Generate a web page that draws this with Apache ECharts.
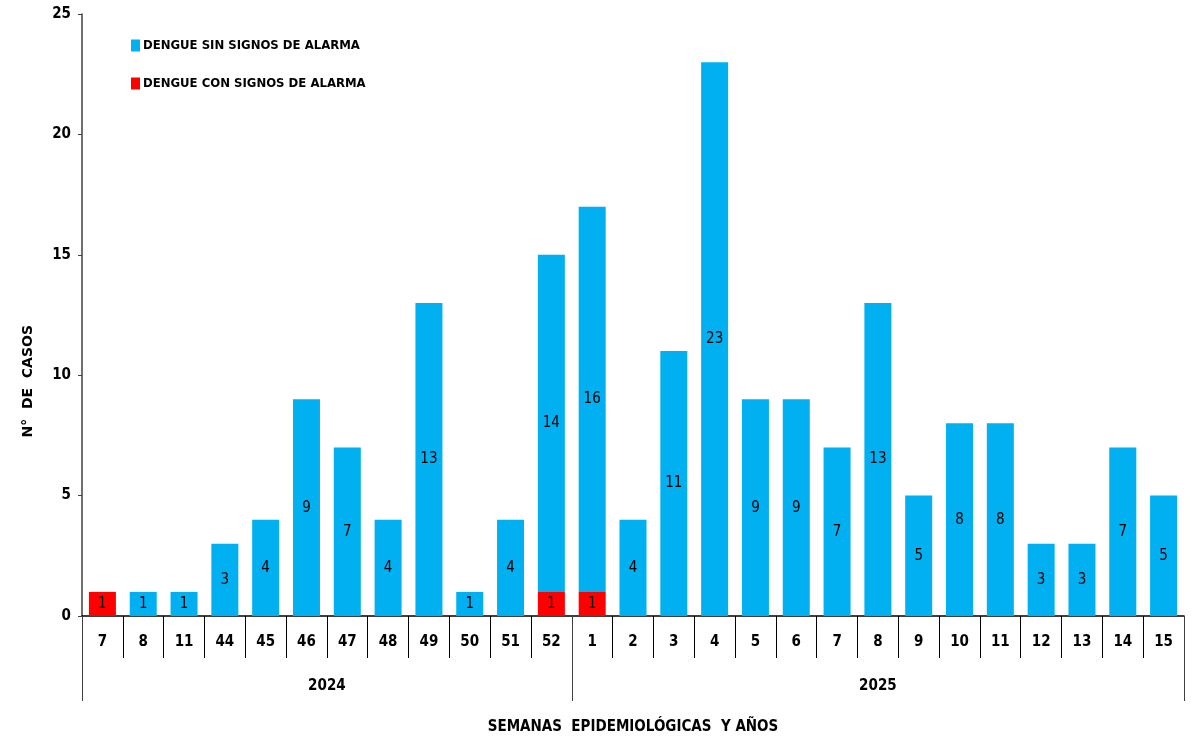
<!DOCTYPE html>
<html>
<head>
<meta charset="utf-8">
<script src="https://cdn.jsdelivr.net/npm/echarts@6/dist/echarts.min.js"></script>
<style>
  html, body { margin: 0; padding: 0; background: #fff; }
  #main { width: 1191px; height: 741px; }
</style>
</head>
<body>
<div id="main"></div>
<script>
// semanas epidemiologicas (2024: 7..52, 2025: 1..15)
const weeks = ['7', '8', '11', '44', '45', '46', '47', '48', '49', '50', '51', '52',
  '1', '2', '3', '4', '5', '6', '7', '8', '9', '10', '11', '12', '13', '14', '15'];
const years = ['2024', '2025'];
const weeksPerYear = [12, 15];
const sinAlarma = [0, 1, 1, 3, 4, 9, 7, 4, 13, 1, 4, 14,
  16, 4, 11, 23, 9, 9, 7, 13, 5, 8, 8, 3, 3, 7, 5];
const conAlarma = [1, 0, 0, 0, 0, 0, 0, 0, 0, 0, 0, 1,
  1, 0, 0, 0, 0, 0, 0, 0, 0, 0, 0, 0, 0, 0, 0];
const yTicks = [0, 5, 10, 15, 20, 25];

const FONT = '"Liberation Sans Narrow", "DejaVu Sans Condensed", "Arial Narrow", sans-serif';
const BLUE = '#00B0F0';
const RED = '#FF0000';

// eje de años: posiciones en medias semanas sobre los bordes de las categorias
const yearAxisData = [];
const yearBounds = [0];
for (let i = 0; i <= weeks.length * 2; i++) yearAxisData.push('');
let start = 0;
for (let i = 0; i < years.length; i++) {
  const end = start + weeksPerYear[i] * 2;
  yearAxisData[(start + end) / 2] = years[i];
  yearBounds.push(end);
  start = end;
}

const chart = echarts.init(document.getElementById('main'));

const labelFmt = p => (p.value ? String(p.value) : '');

const option = {
  backgroundColor: '#ffffff',
  animation: false,
  grid: { left: 82, right: 7, top: 14, bottom: 125, containLabel: false },
  legend: {
    orient: 'vertical',
    left: 126,
    top: 34,
    itemGap: 25,
    itemWidth: 9,
    itemHeight: 12,
    icon: 'rect',
    data: ['DENGUE SIN SIGNOS DE ALARMA', 'DENGUE CON SIGNOS DE ALARMA'],
    textStyle: { fontFamily: FONT, fontWeight: 'bold', fontSize: 13, color: '#000', padding: [0, 0, 0, -2] }
  },
  xAxis: [{
    type: 'category',
    data: weeks,
    position: 'bottom',
    axisLine: { lineStyle: { color: '#000', width: 1.5 } },
    axisTick: { show: true, interval: 0, length: 42, lineStyle: { color: '#000', width: 1 } },
    axisLabel: { interval: 0, margin: 19, fontFamily: FONT, fontWeight: 'bold', fontSize: 15, color: '#000' }
  }, {
    type: 'category',
    data: yearAxisData,
    boundaryGap: false,
    position: 'bottom',
    axisLine: { show: false },
    axisTick: {
      show: true,
      length: 85,
      interval: (idx) => yearBounds.indexOf(idx) >= 0,
      lineStyle: { color: '#404040', width: 1 }
    },
    axisLabel: { interval: 0, margin: 63, fontFamily: FONT, fontWeight: 'bold', fontSize: 15, color: '#000' },
    name: 'SEMANAS  EPIDEMIOLÓGICAS  Y AÑOS',
    nameLocation: 'middle',
    nameGap: 104,
    nameTextStyle: { fontFamily: FONT, fontWeight: 'bold', fontSize: 15, color: '#000', verticalAlign: 'top' }
  }],
  yAxis: {
    type: 'value',
    min: yTicks[0],
    max: yTicks[yTicks.length - 1],
    interval: 5,
    axisLine: { show: true, lineStyle: { color: '#404040', width: 1.5 } },
    axisTick: { show: true, length: 4, lineStyle: { color: '#404040' } },
    splitLine: { show: false },
    axisLabel: { margin: 11, fontFamily: FONT, fontWeight: 'bold', fontSize: 15, color: '#000' }
  },
  graphic: [{
    type: 'text',
    left: 21,
    top: 325,
    rotation: Math.PI / 2,
    style: {
      text: 'N°  DE  CASOS',
      font: 'bold 14px "DejaVu Sans", sans-serif',
      fill: '#000',
      textAlign: 'center',
      textVerticalAlign: 'middle'
    }
  }],
  series: [{
    name: 'DENGUE CON SIGNOS DE ALARMA',
    type: 'bar',
    stack: 'casos',
    barWidth: 27,
    data: conAlarma,
    itemStyle: { color: RED },
    label: { show: true, position: 'inside', formatter: labelFmt, fontFamily: FONT, fontSize: 15, color: '#000' }
  }, {
    name: 'DENGUE SIN SIGNOS DE ALARMA',
    type: 'bar',
    stack: 'casos',
    barWidth: 27,
    data: sinAlarma,
    itemStyle: { color: BLUE },
    label: { show: true, position: 'inside', formatter: labelFmt, fontFamily: FONT, fontSize: 15, color: '#000' }
  }]
};

chart.setOption(option);
</script>
</body>
</html>
